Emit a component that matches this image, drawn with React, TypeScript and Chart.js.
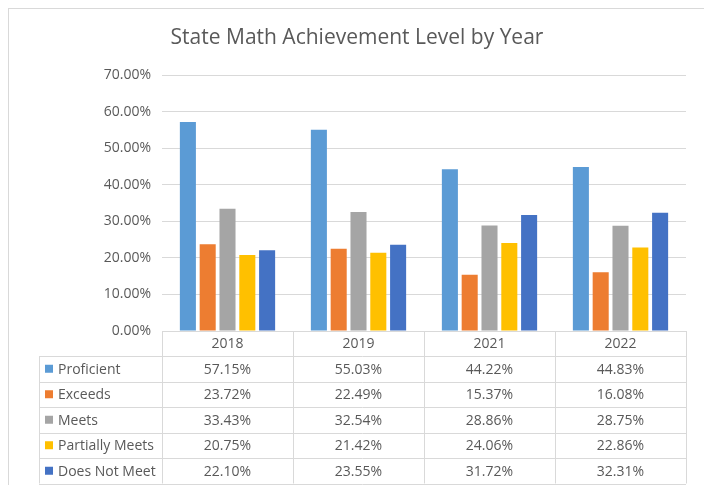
import React, { useEffect, useRef } from "react";
import { Chart, registerables } from "chart.js";

Chart.register(...registerables);

const years = ["2018", "2019", "2021", "2022"];
const seriesNames = ["Proficient", "Exceeds", "Meets", "Partially Meets", "Does Not Meet"];
const proficient = [0.5715, 0.5503, 0.4422, 0.4483];
const exceeds = [0.2372, 0.2249, 0.1537, 0.1608];
const meets = [0.3343, 0.3254, 0.2886, 0.2875];
const partiallyMeets = [0.2075, 0.2142, 0.2406, 0.2286];
const doesNotMeet = [0.221, 0.2355, 0.3172, 0.3231];
const seriesColors = ["#5B9BD5", "#ED7D31", "#A5A5A5", "#FFC000", "#4472C4"];
const titleText = "State Math Achievement Level by Year";

const FONT = "'Open Sans', 'Liberation Sans', sans-serif";
const TEXT = "#595959";
const LINE = "#d9d9d9";

const fmt = (v: number) => (v * 100).toFixed(2) + "%";

const tablePlugin = {
  id: "dataTable",
  afterDraw(chart: any) {
    const ctx = chart.ctx as CanvasRenderingContext2D;
    const ca = chart.chartArea;
    const data = chart.data.datasets;
    const n = years.length;
    const colW = (ca.right - ca.left) / n;
    const headerH = 25;
    const rowH = 25.5;
    const legendLeft = 30;
    const top = ca.bottom;
    const bodyTop = top + headerH;
    const bottom = bodyTop + rowH * data.length;
    ctx.save();
    // title
    ctx.fillStyle = TEXT;
    ctx.font = `21px ${FONT}`;
    ctx.textAlign = "center";
    ctx.textBaseline = "middle";
    ctx.fillText(titleText, chart.width / 2, 29);

    ctx.strokeStyle = LINE;
    ctx.lineWidth = 1;
    const h = (x1: number, x2: number, y: number) => {
      ctx.beginPath();
      ctx.moveTo(x1, Math.round(y) + 0.5);
      ctx.lineTo(x2, Math.round(y) + 0.5);
      ctx.stroke();
    };
    const v = (x: number, y1: number, y2: number) => {
      ctx.beginPath();
      ctx.moveTo(Math.round(x) + 0.5, y1);
      ctx.lineTo(Math.round(x) + 0.5, y2);
      ctx.stroke();
    };
    h(ca.left, ca.right, top);
    for (let r = 0; r <= data.length; r++) h(legendLeft, ca.right, bodyTop + r * rowH);
    v(legendLeft, bodyTop, bottom);
    for (let c = 0; c <= n; c++) v(ca.left + c * colW, top, bottom);

    ctx.font = `14px ${FONT}`;
    ctx.fillStyle = TEXT;
    ctx.textAlign = "center";
    for (let c = 0; c < n; c++) {
      ctx.fillText(years[c], ca.left + (c + 0.5) * colW, top + headerH / 2 + 1);
    }
    data.forEach((ds: any, r: number) => {
      const cy = bodyTop + (r + 0.5) * rowH + 1;
      ctx.fillStyle = ds.backgroundColor;
      ctx.fillRect(legendLeft + 6, cy - 5, 8, 8);
      ctx.fillStyle = TEXT;
      ctx.textAlign = "left";
      ctx.fillText(ds.label, legendLeft + 19, cy);
      ctx.textAlign = "center";
      ds.data.forEach((val: number, c: number) => {
        ctx.fillText(fmt(val), ca.left + (c + 0.5) * colW, cy);
      });
    });
    ctx.restore();
  },
};

export default function App() {
  const ref = useRef<HTMLCanvasElement | null>(null);
  useEffect(() => {
    if (!ref.current) return;
    const values = [proficient, exceeds, meets, partiallyMeets, doesNotMeet];
    const chart = new Chart(ref.current, {
      type: "bar",
      data: {
        labels: years,
        datasets: seriesNames.map((name, i) => ({
          label: name,
          data: values[i],
          backgroundColor: seriesColors[i],
          borderWidth: 0,
          barPercentage: 0.81,
          categoryPercentage: 0.756,
        })),
      },
      options: {
        responsive: false,
        animation: false,
        layout: { padding: { left: 0, right: 19, top: 66, bottom: 166 } },
        plugins: {
          legend: { display: false },
          title: { display: false },
          tooltip: { enabled: false },
        },
        scales: {
          x: { display: false },
          y: {
            min: 0,
            max: 0.7,
            ticks: {
              stepSize: 0.1,
              color: TEXT,
              font: { family: FONT, size: 14 },
              padding: 11,
              callback: (val: any) => fmt(Number(val)),
            },
            grid: { color: LINE, lineWidth: 1, drawTicks: false },
            border: { display: false },
            afterFit: (scale: any) => {
              scale.width = 153;
            },
          },
        },
      },
      plugins: [tablePlugin],
    });
    return () => chart.destroy();
  }, []);
  return (
    <div
      style={{
        position: "relative",
        width: 698,
        height: 490,
        border: "1px solid #d9d9d9",
        boxSizing: "border-box",
        background: "#fff",
      }}
    >
      <canvas ref={ref} width={696} height={488} style={{ display: "block", width: 696, height: 488 }} />
    </div>
  );
}
